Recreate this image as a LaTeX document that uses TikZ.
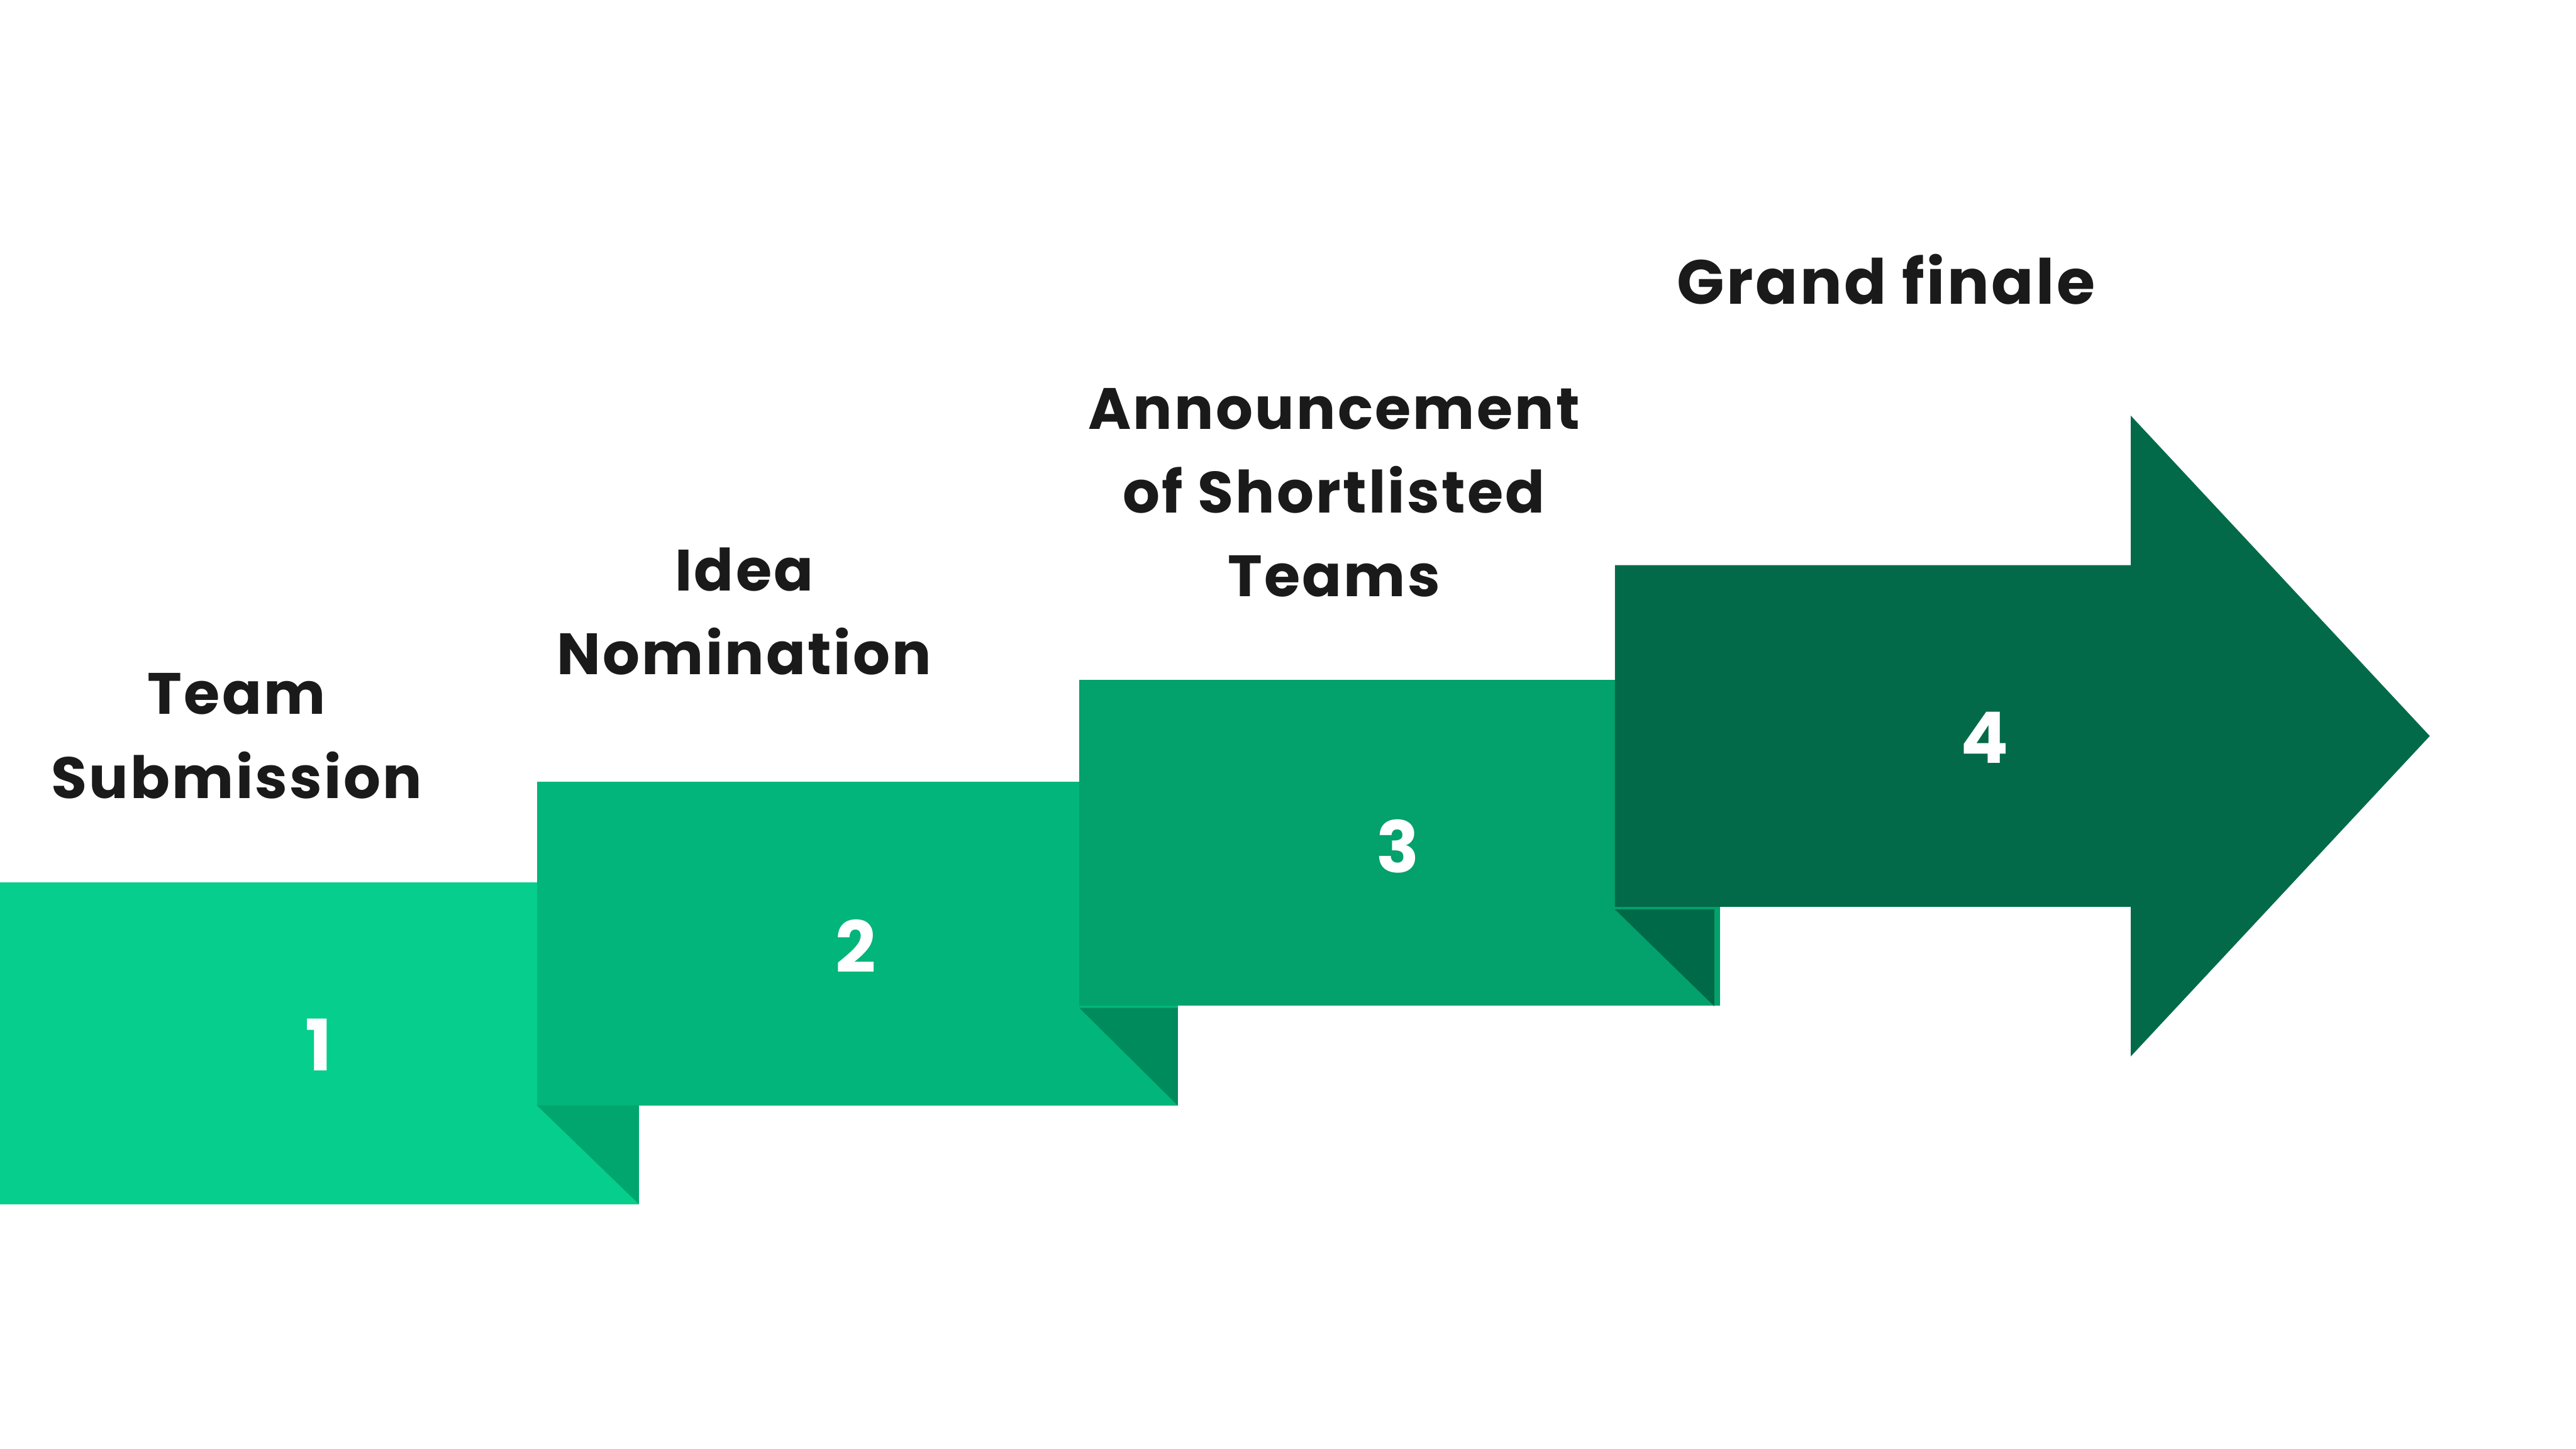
\documentclass[tikz,border=0pt]{standalone}
\usepackage{fontspec}
\setmainfont{Poppins}[LetterSpace=3.5]
\newfontfamily\numfont{Poppins}
\definecolor{cA}{HTML}{06CE8C}
\definecolor{cB}{HTML}{02B57A}
\definecolor{cC}{HTML}{03A16B}
\definecolor{cD}{HTML}{026A48}
\definecolor{fA}{HTML}{00A66E}
\definecolor{fB}{HTML}{008B5C}
\definecolor{fC}{HTML}{006A48}
\definecolor{ink}{HTML}{1A1A1A}
\begin{document}
\begin{tikzpicture}[x=0.1mm,y=-0.1mm,
  lbl/.style={align=center,text=ink,font=\fontsize{10.1pt}{14.5pt}\selectfont\bfseries,inner sep=0pt},
  num/.style={text=white,font=\numfont\fontsize{12.3pt}{14pt}\selectfont\bfseries,inner sep=0pt}]
\useasboundingbox[fill=white] (0,0) rectangle (1568,882);
% step 1
\fill[cA] (0,537) rectangle (389,733);
\fill[fA] (327,673) -- (389,673) -- (389,733) -- cycle;
% step 2
\fill[cB] (327,476) rectangle (717,673);
\fill[fB] (657,613.5) -- (717,613.5) -- (717,673) -- cycle;
% step 3
\fill[cC] (657,414) rectangle (1047,612);
\fill[fC] (983,553.5) -- (1043.5,553.5) -- (1043.5,612.5) -- cycle;
% step 4 arrow
\fill[cD] (983,344) -- (1297,344) -- (1297,253) -- (1479,448) -- (1297,643) -- (1297,552) -- (983,552) -- cycle;
% numbers
\node[num] (n1) at (194,636) {1};
\node[num] (n2) at (521,576) {2};
\node[num] (n3) at (851,515) {3};
\node[num] (n4) at (1208,449) {4};
% labels
\node[lbl] (l1) at (144,448) {Team\\Submission};
\node[lbl] (l2) at (453,372) {Idea\\Nomination};
\node[lbl] (l3) at (812,300) {Announcement\\of Shortlisted\\Teams};
\node[lbl,font=\fontsize{10.8pt}{14.5pt}\selectfont\bfseries] (l4) at (1148,170) {Grand finale};
\end{tikzpicture}
\end{document}
